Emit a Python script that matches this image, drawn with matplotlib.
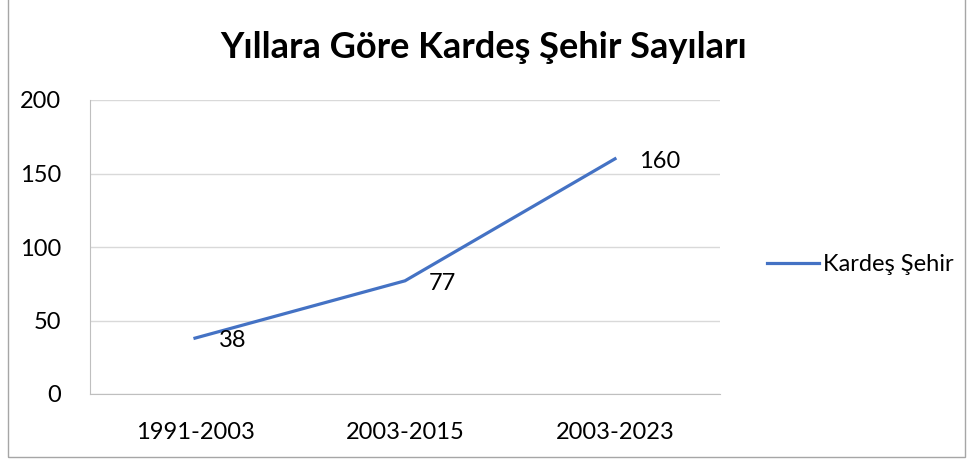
import matplotlib.pyplot as plt
from matplotlib.patches import Rectangle

periods = ['1991-2003', '2003-2015', '2003-2023']
counts = [38, 77, 160]
series_name = 'Kardeş Şehir'
y_ticks = [0, 50, 100, 150, 200]

plt.rcParams['font.family'] = ['Lato', 'DejaVu Sans']

fig = plt.figure(figsize=(9.68, 4.62), dpi=100)
ax = fig.add_axes([90 / 968, 1 - 394 / 462, 630 / 968, 294 / 462])

ax.plot(range(len(periods)), counts, color='#4472C4', linewidth=2.3, label=series_name)

# data labels to the right of each point
for i, v in enumerate(counts):
    ax.annotate(str(v), (i, v), xytext=(17, -2), textcoords='offset points',
                ha='left', va='center', fontsize=17, color='#000000')

ax.set_xlim(-0.5, len(periods) - 0.5)
ax.set_ylim(0, 200)
ax.set_yticks(y_ticks)
ax.set_xticks(range(len(periods)))
ax.set_xticklabels(periods)
ax.tick_params(axis='x', length=0, labelsize=17, pad=20)
ax.tick_params(axis='y', length=0, labelsize=17, pad=21)
ax.grid(axis='y', color='#D9D9D9', linewidth=1)
ax.set_axisbelow(True)
for side in ['top', 'right']:
    ax.spines[side].set_visible(False)
ax.spines['left'].set_color('#BFBFBF')
ax.spines['bottom'].set_color('#BFBFBF')

fig.text(0.5, 1 - 47 / 462, 'Yıllara Göre Kardeş Şehir Sayıları', ha='center', va='center',
         fontsize=26, fontweight='bold')

ax.legend(loc='center left', bbox_to_anchor=(758 / 968, 1 - 265 / 462),
          bbox_transform=fig.transFigure, frameon=False, fontsize=17,
          handlelength=2.2, handletextpad=0.15, borderaxespad=0)

# outer chart border
fig.patches.append(Rectangle((8 / 968, 5 / 462), 957 / 968, 470 / 462,
                             transform=fig.transFigure, fill=False,
                             edgecolor='#A6A6A6', linewidth=1))

plt.savefig('out.png', dpi=100)
